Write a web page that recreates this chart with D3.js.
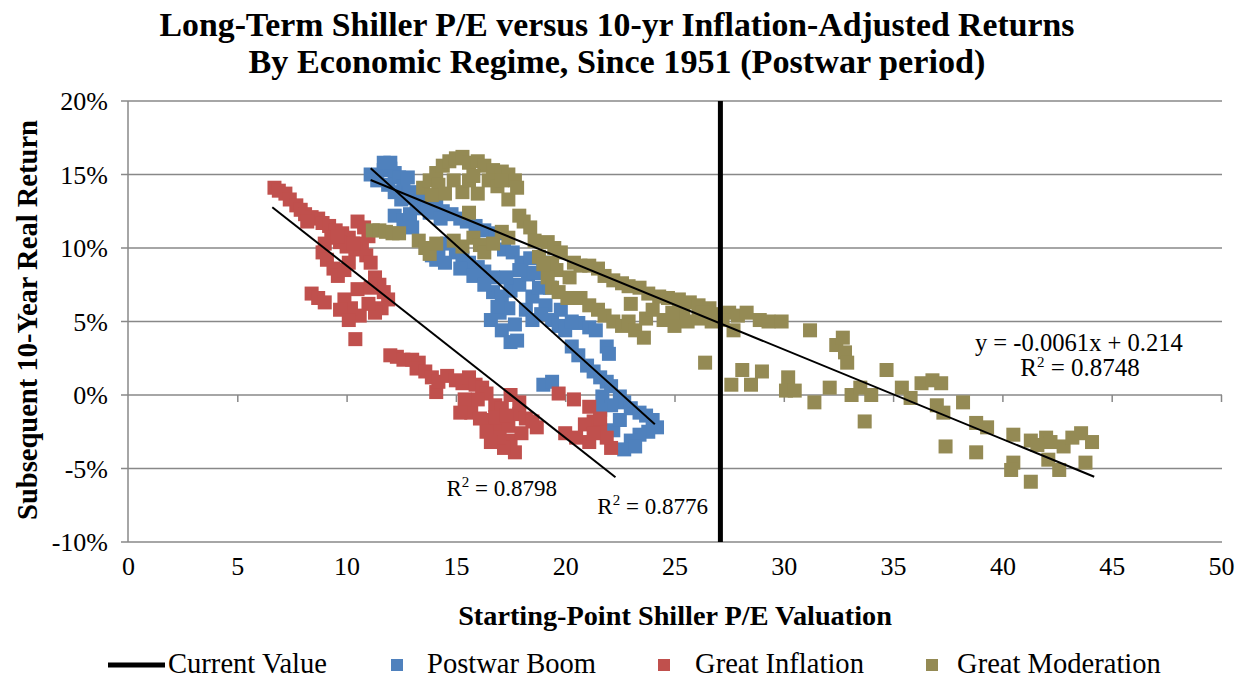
<!DOCTYPE html>
<head>
    <meta charset="utf-8">
    <title>Shiller P/E vs 10-yr Real Returns</title>
    <script src="https://d3js.org/d3.v7.min.js"></script>
    <style>
        body { margin: 0; background: #fff; }
        text { font-family: "Liberation Serif", "DejaVu Serif", serif; fill: #000; }
    </style>
</head>
<body>
<div id="container"></div>
<script>
    //-----------------------------DATA-----------------------------//
    // [Shiller P/E, subsequent 10-yr real return %]
    const postwarBoom = [
        [11.1,15.0],[11.4,14.6],[11.7,15.3],[12.0,15.4],[12.2,15.1],[11.9,14.3],[12.4,14.8],[12.6,14.2],
        [12.9,13.8],[12.2,13.8],[12.5,13.3],[13.1,13.4],[12.2,12.2],[12.6,11.9],[12.9,12.3],[13.2,12.7],
        [13.7,13.0],[14.1,12.8],[14.4,12.5],[14.8,12.3],[15.2,12.0],[15.5,11.8],[15.9,11.5],[16.3,11.2],
        [16.8,11.0],[13.9,9.5],[14.2,9.9],[14.6,10.3],[15.0,9.7],[15.3,9.3],[15.6,9.0],[16.0,8.7],
        [16.3,8.4],[16.7,8.0],[17.2,9.9],[17.6,9.7],[18.0,9.0],[18.4,9.3],[16.7,7.0],[17.1,6.7],
        [17.5,7.1],[16.6,5.1],[17.0,5.6],[17.1,4.4],[17.5,3.6],[17.8,3.7],[17.4,5.9],[18.2,5.8],
        [18.5,6.7],[18.8,7.3],[19.1,6.1],[18.5,5.1],[17.9,7.5],[18.3,8.2],[19.0,9.0],[19.3,7.3],
        [19.4,5.1],[19.7,4.7],[20.0,4.4],[20.6,4.9],[21.1,4.6],[21.4,4.4],[21.9,3.3],[22.0,2.8],
        [20.3,3.3],[20.6,2.7],[21.0,2.0],[21.3,1.6],[21.6,1.2],[21.9,0.9],[22.1,0.6],[22.5,-0.1],
        [22.7,-0.5],[23.0,-0.9],[23.4,-1.2],[23.7,-1.4],[24.0,-1.7],[24.2,-2.2],[23.8,-2.5],[23.4,-2.7],
        [23.0,-3.1],[22.7,-3.7],[23.2,-3.5],[22.2,-2.4],[21.7,-0.1],[22.1,-0.7],[19.0,0.7],[19.4,0.9],
        [21.6,-1.0],[22.5,-1.7],[11.7,15.8],[12.0,15.8],[13.0,11.4],[14.1,9.2],
        [14.5,9.0],[15.2,8.6],[15.8,8.1],[16.3,7.5],[17.9,8.5],[18.6,8.3],[17.3,8.0],[16.9,6.0],
        [17.7,4.8],[18.9,5.5],[19.8,5.8],[20.3,5.0],[12.8,14.8],[13.4,13.7],[13.8,12.4],[14.3,12.0]
    ];
    const greatInflation = [
        [6.7,14.1],[6.9,13.9],[7.2,13.7],[7.4,13.3],[7.7,12.9],[7.9,12.6],[8.1,12.3],[8.4,12.1],
        [8.7,12.0],[8.9,11.7],[9.2,11.5],[9.5,11.2],[9.8,11.0],[10.1,10.7],[10.5,11.8],[10.8,11.4],
        [11.0,10.8],[10.7,10.3],[10.4,9.9],[10.0,10.1],[9.7,10.4],[9.3,10.7],[9.0,10.3],[8.9,9.7],
        [9.1,9.2],[9.4,8.6],[9.6,8.1],[9.9,8.5],[10.1,9.0],[10.9,9.5],[11.1,9.0],[11.3,8.0],
        [11.5,7.5],[11.7,7.0],[11.9,6.5],[11.6,5.9],[11.3,5.6],[11.0,6.2],[10.6,5.4],[10.2,5.9],
        [9.9,6.5],[9.7,5.8],[10.1,5.1],[8.4,6.9],[8.7,6.6],[9.0,6.3],[10.4,3.8],
        [12.0,2.7],[12.3,2.6],[12.6,2.4],[13.0,2.4],[13.3,2.2],[13.2,1.8],[13.6,1.6],[13.9,1.2],
        [14.1,0.2],[14.2,0.9],[14.6,1.3],[15.0,1.0],[15.3,0.8],[15.6,1.2],[15.9,0.7],[16.2,0.5],
        [16.4,0.1],[15.7,-1.2],[16.1,-1.6],[16.5,-1.7],[16.8,-0.7],[17.1,-0.9],[16.9,-2.2],[17.4,-2.1],
        [17.5,-3.1],[17.7,-3.9],[17.9,-1.3],[18.2,-1.6],[18.5,-1.8],[18.7,-2.2],[17.2,-3.6],[17.0,-2.9],
        [16.4,-2.5],[16.0,-0.3],[15.4,-0.3],[15.2,-1.2],[17.5,0.0],[17.9,-0.5],[19.7,0.1],[20.4,-0.3],
        [20.0,-2.6],[20.5,-2.9],[21.1,-0.8],[21.3,-1.8],[21.6,-2.4],[22.1,-3.6],[21.1,-3.2],[21.6,-1.6],
        [21.9,-2.9],[20.9,-2.0],
        [8.2,11.8],[9.6,10.8],[10.3,10.3],[10.5,7.2],[11.1,7.3],[16.8,-1.5],[17.3,-1.4],[16.6,-3.2],
        [18.0,-2.6],[21.3,-2.6]
    ];
    const greatModeration = [
        [11.2,11.2],[11.5,11.2],[11.8,11.1],[12.1,11.0],[12.4,11.0],[13.3,10.5],[13.6,10.0],[13.8,9.6],
        [14.1,10.3],[13.5,14.1],[13.8,14.6],[14.1,15.1],[14.4,15.6],[14.7,15.9],[15.0,16.1],[15.3,16.2],
        [15.6,15.8],[16.0,15.9],[16.3,15.6],[16.7,15.3],[17.1,15.2],[17.4,15.0],[17.7,14.6],[17.8,14.1],
        [17.4,13.3],[14.2,14.3],[14.9,14.6],[14.5,13.7],[15.3,13.8],[15.6,14.6],[16.5,14.6],[15.6,12.4],
        [14.9,10.5],[15.3,10.1],[15.8,10.7],[16.1,10.2],[16.3,9.7],[16.7,10.3],[17.1,11.1],[17.4,10.7],
        [17.9,12.2],[18.1,11.8],[18.4,11.4],[18.6,10.5],[19.2,10.4],[19.5,10.0],[19.8,9.7],[19.4,9.0],
        [19.6,8.5],[19.2,8.0],[19.4,7.3],[19.7,7.0],[20.1,6.6],[20.4,9.0],[20.7,8.8],[21.1,8.8],
        [21.5,8.6],[21.8,8.1],[22.2,7.8],[22.6,7.6],[22.9,7.4],[23.4,7.3],[23.8,6.9],[24.3,6.7],
        [24.7,6.6],[25.2,6.5],[25.7,6.3],[26.1,6.1],[26.6,5.9],[27.0,5.5],[27.5,5.6],[27.9,5.4],
        [20.7,6.6],[21.1,6.1],[21.5,5.8],[21.8,5.4],[22.2,5.0],[22.6,4.7],[22.9,5.0],[23.2,4.4],
        [23.6,3.9],[23.7,5.2],[24.5,5.1],[25.0,4.7],[25.6,5.0],[26.1,5.2],[26.7,5.0],[27.2,5.1],
        [27.7,4.4],[26.4,2.2],[28.3,5.6],[28.9,5.1],[29.3,5.0],[29.9,5.0],[31.2,4.4],[28.1,1.7],
        [27.6,0.7],[28.5,0.7],[29.0,1.6],[30.2,1.2],[30.1,0.3],[30.5,0.3],[31.4,-0.5],[32.4,3.4],
        [32.7,3.9],[32.8,2.9],[32.9,2.2],[32.1,0.5],[33.1,0.0],[33.5,0.5],[34.0,0.0],[33.7,-1.8],
        [34.7,1.7],[35.4,0.5],[35.8,-0.2],[36.3,0.8],[36.8,1.0],[37.2,0.8],[37.0,-0.7],[37.3,-1.2],
        [38.2,-0.5],[37.4,-3.5],[38.8,-1.9],[39.3,-2.2],[38.8,-3.9],[40.5,-2.7],[40.5,-4.6],[40.4,-5.1],
        [41.3,-3.1],[42.0,-2.9],[42.2,-3.2],[42.1,-4.4],[42.6,-5.1],[41.3,-5.9],[42.8,-3.5],[43.2,-2.9],
        [43.6,-2.6],[44.1,-3.2],[43.8,-4.6],[41.6,-3.4],
        [15.8,14.9],[16.9,14.2],[17.1,14.6],[13.9,13.6],[16.0,13.7],[18.8,9.4],[19.0,8.9],[20.2,8.0],
        [23.0,6.2],[24.0,5.8],[25.4,5.6],[26.3,5.6],[24.9,5.6]
    ];
    const currentValue = 27.1;

    // linear trendlines: slope (%/unit P/E), intercept (%), P/E range
    const trendBoom = { slope: -1.34, intercept: 30.3, from: 11.1, to: 24.1 };
    const trendInflation = { slope: -1.17, intercept: 20.5, from: 6.6, to: 22.3 };
    const trendModeration = { slope: -0.61, intercept: 21.4, from: 11.1, to: 44.2 };

    const xTicks = [0, 5, 10, 15, 20, 25, 30, 35, 40, 45, 50];
    const yTicks = [-10, -5, 0, 5, 10, 15, 20];

    const seriesNames = ["Current Value", "Postwar Boom", "Great Inflation", "Great Moderation"];
    const colors = { boom: "#4F81BD", inflation: "#C0504D", moderation: "#948A54" };

    //-----------------------------SVG------------------------------//
    const width = 1245;
    const height = 679;
    const svg = d3.select("#container").append("svg")
        .attr("width", width)
        .attr("height", height);

    const x = d3.scaleLinear().domain([0, 50]).range([128, 1221]);
    const y = d3.scaleLinear().domain([-10, 20]).range([542, 101]);

    // shrink or grow a text's font so that it spans w pixels
    function fit(sel, w) {
        const len = sel.node().getComputedTextLength();
        const fs = parseFloat(sel.attr("font-size"));
        sel.attr("font-size", (fs * w / len).toFixed(2));
        return fs * w / len;
    }

    //----------------------------TITLES----------------------------//
    const t1 = svg.append("text").attr("x", 617).attr("y", 36).attr("text-anchor", "middle")
        .attr("font-size", 28).attr("font-weight", "bold")
        .text("Long-Term Shiller P/E versus 10-yr Inflation-Adjusted Returns");
    fit(t1, 915);
    const t2 = svg.append("text").attr("x", 617).attr("y", 73).attr("text-anchor", "middle")
        .attr("font-size", 28).attr("font-weight", "bold")
        .text("By Economic Regime, Since 1951 (Postwar period)");
    fit(t2, 737);

    //-----------------------------GRID-----------------------------//
    svg.append("g")
        .selectAll("line")
        .data(yTicks)
        .join("line")
        .attr("x1", 121).attr("x2", 1222)
        .attr("y1", d => y(d)).attr("y2", d => y(d))
        .attr("stroke", "#888").attr("stroke-width", 1.5);

    svg.append("line")
        .attr("x1", x(0)).attr("x2", x(0))
        .attr("y1", y(20)).attr("y2", y(-10))
        .attr("stroke", "#888").attr("stroke-width", 1.5);

    //-----------------------------AXES-----------------------------//
    // x ticks hang under the 0% line
    const xTickAxis = svg.append("g")
        .attr("transform", "translate(0," + y(0) + ")")
        .call(d3.axisBottom(x).tickValues(xTicks.slice(1)).tickSize(7).tickFormat(""));
    xTickAxis.select(".domain").remove();
    xTickAxis.selectAll("line").attr("stroke", "#888").attr("stroke-width", 1.5);

    const yAxis = svg.append("g")
        .attr("transform", "translate(" + x(0) + ",0)")
        .call(d3.axisLeft(y).tickValues(yTicks).tickSize(0).tickPadding(20).tickFormat(d => d + "%"));
    yAxis.select(".domain").remove();
    yAxis.selectAll("text").attr("font-family", "Liberation Serif").attr("font-size", 26)
        .attr("dy", "0.34em");

    const xAxis = svg.append("g")
        .attr("transform", "translate(0," + y(-10) + ")")
        .call(d3.axisBottom(x).tickValues(xTicks).tickSize(0).tickPadding(15));
    xAxis.select(".domain").remove();
    xAxis.selectAll("text").attr("font-family", "Liberation Serif").attr("font-size", 26);

    const xTitle = svg.append("text").attr("x", 675).attr("y", 625).attr("text-anchor", "middle")
        .attr("font-size", 24).attr("font-weight", "bold")
        .text("Starting-Point Shiller P/E Valuation");
    fit(xTitle, 434);

    const yTitle = svg.append("text")
        .attr("transform", "translate(37,320) rotate(-90)")
        .attr("text-anchor", "middle")
        .attr("font-size", 24).attr("font-weight", "bold")
        .text("Subsequent 10-Year Real Return");
    fit(yTitle, 400);

    //---------------------------POINTS-----------------------------//
    const size = 14;
    function drawPoints(data, color) {
        svg.append("g")
            .selectAll("rect")
            .data(data)
            .join("rect")
            .attr("x", d => x(d[0]) - size / 2)
            .attr("y", d => y(d[1]) - size / 2)
            .attr("width", size)
            .attr("height", size)
            .attr("fill", color);
    }
    drawPoints(postwarBoom, colors.boom);
    drawPoints(greatInflation, colors.inflation);
    drawPoints(greatModeration, colors.moderation);

    //--------------------------TRENDLINES--------------------------//
    [trendBoom, trendInflation, trendModeration].forEach(function(t) {
        svg.append("line")
            .attr("x1", x(t.from)).attr("y1", y(t.intercept + t.slope * t.from))
            .attr("x2", x(t.to)).attr("y2", y(t.intercept + t.slope * t.to))
            .attr("stroke", "#000").attr("stroke-width", 2);
    });

    //------------------------CURRENT VALUE-------------------------//
    svg.append("line")
        .attr("x1", x(currentValue)).attr("x2", x(currentValue))
        .attr("y1", y(20)).attr("y2", y(-10))
        .attr("stroke", "#000").attr("stroke-width", 5);

    //-------------------------ANNOTATIONS--------------------------//
    function rSquared(px, py, val, w) {
        const t = svg.append("text").attr("x", x(px)).attr("y", y(py))
            .attr("text-anchor", "middle").attr("font-size", 23);
        t.append("tspan").text("R");
        t.append("tspan").attr("font-size", 15).attr("dy", -9).text("2");
        t.append("tspan").attr("dy", 9).text(" = " + val);
        return t;
    }
    rSquared(17.1, -6.9, "0.8798");
    rSquared(24.0, -8.1, "0.8776");
    const eq = svg.append("text").attr("x", x(43.5)).attr("y", y(3.0))
        .attr("text-anchor", "middle").attr("font-size", 21)
        .text("y = -0.0061x + 0.214");
    fit(eq, 208);
    rSquared(43.55, 1.3, "0.8748").attr("font-size", 25);

    //----------------------------LEGEND----------------------------//
    const legY = 665;
    const lg = svg.append("g");
    lg.append("line").attr("x1", 108).attr("x2", 165).attr("y1", legY).attr("y2", legY)
        .attr("stroke", "#000").attr("stroke-width", 5);
    const legItems = [
        { name: seriesNames[1], color: colors.boom, mx: 397, tx: 427 },
        { name: seriesNames[2], color: colors.inflation, mx: 664, tx: 695 },
        { name: seriesNames[3], color: colors.moderation, mx: 932, tx: 957 }
    ];
    lg.selectAll("rect").data(legItems).join("rect")
        .attr("x", d => d.mx - 6).attr("y", legY - 6)
        .attr("width", 12).attr("height", 12)
        .attr("fill", d => d.color);
    const lt0 = lg.append("text").attr("x", 168).attr("y", legY + 8)
        .attr("font-size", 22).text(seriesNames[0]);
    const legSize = fit(lt0, 159);
    lg.selectAll("text.item").data(legItems).join("text")
        .attr("class", "item")
        .attr("x", d => d.tx).attr("y", legY + 8)
        .attr("font-size", legSize)
        .text(d => d.name);
</script>
</body>
